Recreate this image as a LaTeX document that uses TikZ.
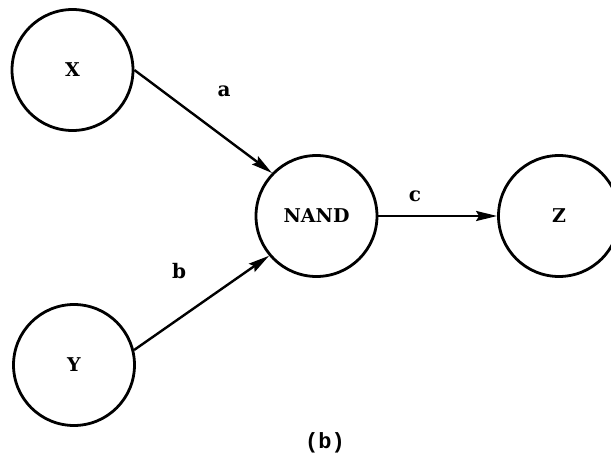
\documentclass[tikz,border=0pt]{standalone}
\usepackage{fontspec}
\setmainfont{DejaVu Serif}
\newfontfamily\capfont{Liberation Mono}
\usetikzlibrary{arrows.meta}
\begin{document}
\begin{tikzpicture}[x=1pt,y=-1pt,
  state/.style={circle,draw,line width=2.8pt,minimum size=121pt,inner sep=0pt,
    font=\fontsize{19}{22}\selectfont\bfseries},
  flow/.style={line width=2.4pt,-{Stealth[length=21pt,width=10pt,inset=3pt]}},
  lab/.style={font=\fontsize{20}{24}\selectfont\bfseries}]
\useasboundingbox (0,0) rectangle (611,463);
\node[state] (X) at (72.5,70) {X};
\node[state] (Y) at (74,365) {Y};
\node[state] (N) at (316.5,216) {NAND};
\node[state] (Z) at (559,216) {Z};
\draw[flow] (X.east) -- (N.136);
\draw[flow] (Y.14) -- (N.220);
\draw[flow] (N.east) -- (Z.west);
\node[lab] (la) at (224,91) {a};
\node[lab] (lb) at (179,271) {b};
\node[lab] (lc) at (415,196) {c};
\node[font=\capfont\fontsize{22}{26}\selectfont\bfseries] (cap) at (325,443) {(b)};
\end{tikzpicture}
\end{document}
